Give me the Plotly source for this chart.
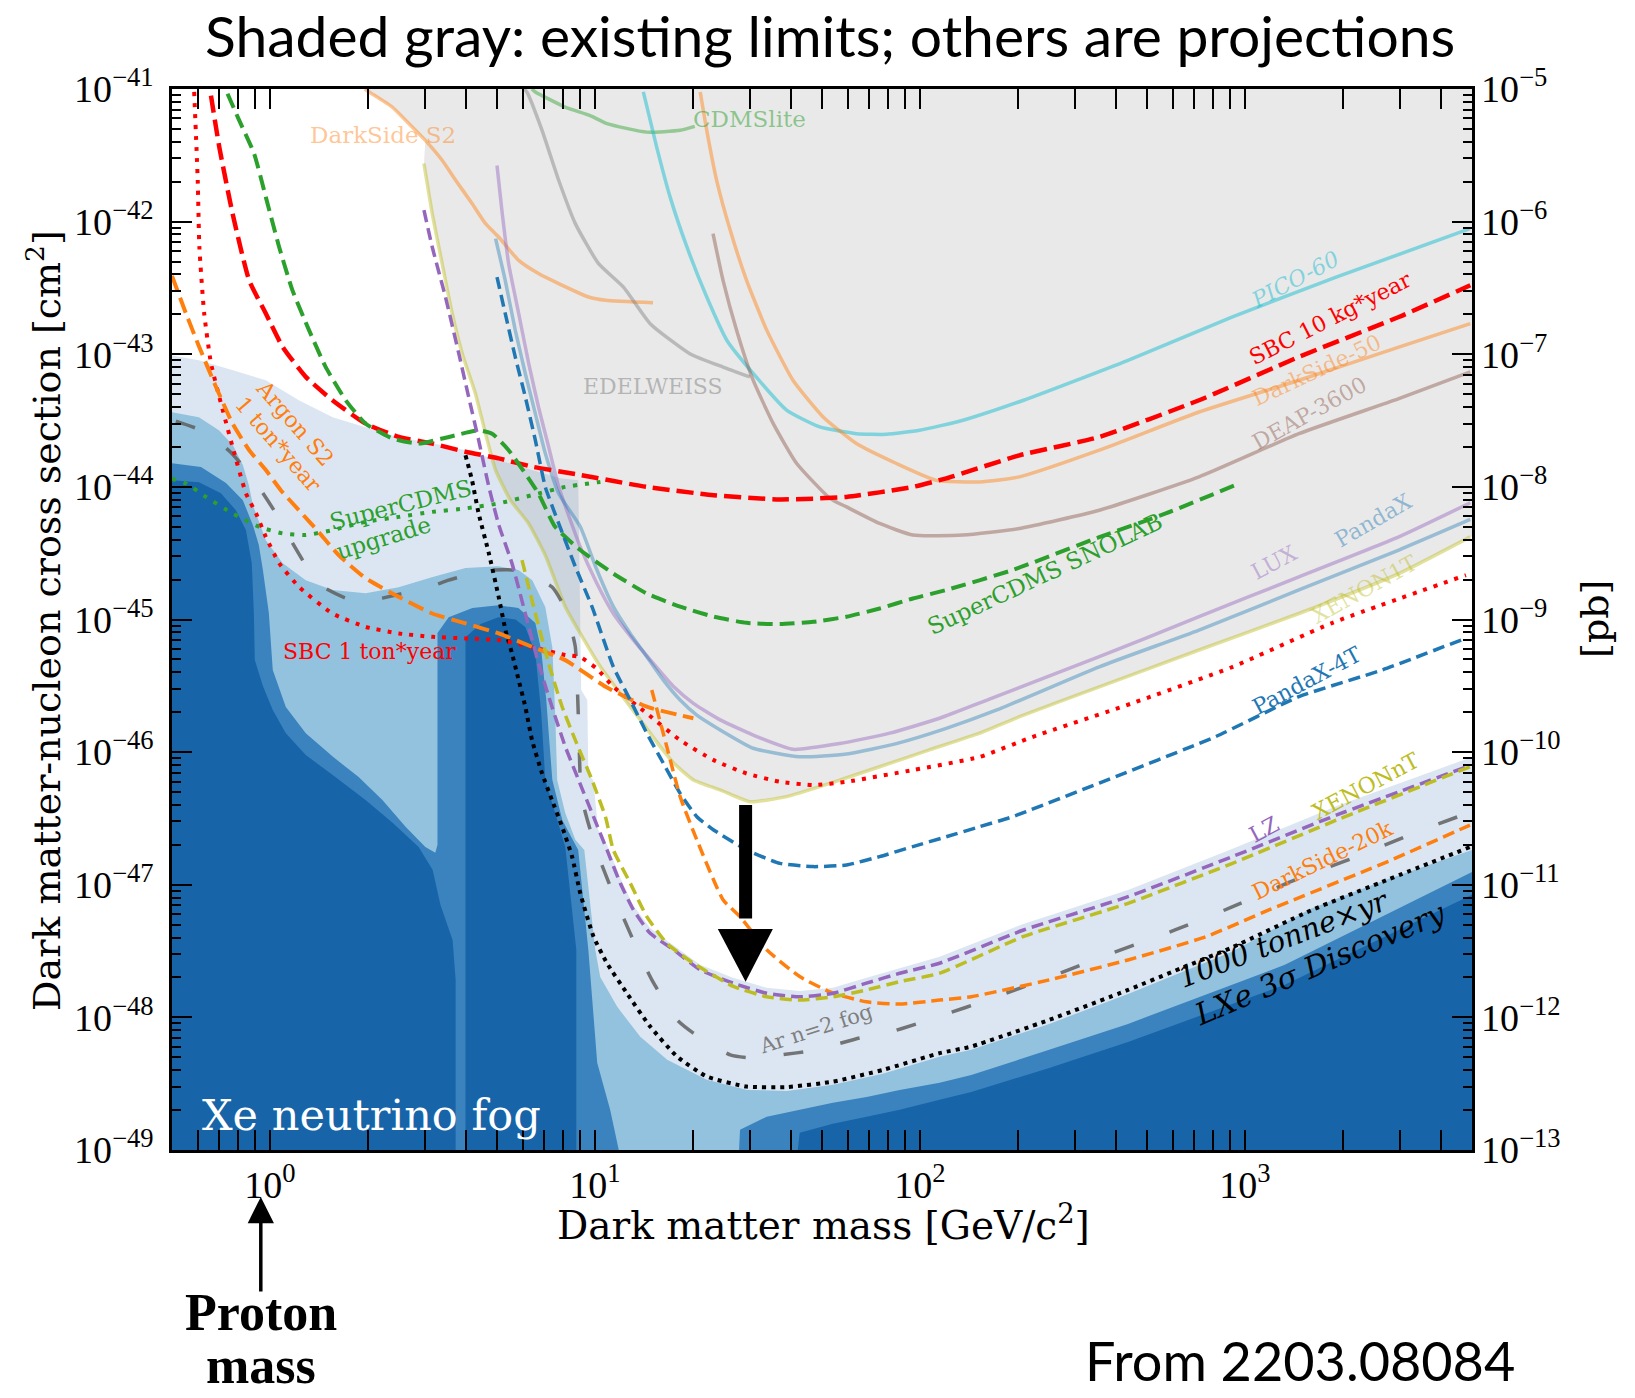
import numpy as np
import plotly.graph_objects as go

# ---------------- data (mass in GeV, cross section in cm^2) ----------------
# existing limits (solid, pale)
XENON1T_M = [2.98, 3.16, 3.39, 3.64, 3.91, 4.29, 4.61, 4.95, 5.5, 6.25, 7.04, 8.11, 9.02, 10.4, 11.97, 13.8, 15.9, 17.5, 20.1, 24.3, 30.0, 38.9, 52.9, 75.2, 107, 152.7, 202.6, 356.6, 723, 1467, 2977, 4940]
XENON1T_S = [2.74e-42, 1.15e-42, 4.82e-43, 2.03e-43, 1.01e-43, 5.06e-44, 2.52e-44, 1.34e-44, 7.94e-45, 5.32e-45, 3.05e-45, 1.25e-45, 7.85e-46, 4.4e-46, 2.77e-46, 1.75e-46, 1.1e-46, 8.24e-47, 6.17e-47, 5.19e-47, 4.23e-47, 4.62e-47, 5.82e-47, 7.76e-47, 1.04e-46, 1.39e-46, 1.85e-46, 3.11e-46, 5.89e-46, 1.11e-45, 2.22e-45, 4.2e-45]
PANDAX_M = [4.95, 5.3, 5.69, 6.11, 6.56, 7.04, 7.74, 9.02, 10.15, 11.4, 12.85, 14.45, 16.25, 18.3, 20.6, 24.3, 30.7, 42.7, 59.5, 84.7, 120.6, 171.8, 356.6, 723, 1467, 2977, 4940]
PANDAX_S = [7.45e-43, 3.61e-43, 1.52e-43, 7.16e-44, 3.57e-44, 1.79e-44, 8.9e-45, 5.0e-45, 2.36e-45, 1.25e-45, 7.85e-46, 5.24e-46, 3.49e-46, 2.47e-46, 1.9e-46, 1.47e-46, 1.07e-46, 9.23e-47, 9.68e-47, 1.16e-46, 1.51e-46, 2.07e-46, 4.4e-46, 8.32e-46, 1.67e-45, 3.34e-45, 5.68e-45]
LUX_M = [5.0, 5.19, 5.43, 5.83, 6.26, 6.71, 7.21, 7.74, 9.02, 10.15, 11.4, 13.15, 15.14, 17.5, 20.1, 24.3, 31.5, 40.7, 56.7, 80.8, 115, 163.8, 356.6, 723, 1467, 2977, 4940]
LUX_S = [2.65e-42, 1.15e-42, 4.82e-43, 2.03e-43, 8.5e-44, 4.0e-44, 2.0e-44, 1.0e-44, 3.53e-45, 1.87e-45, 1.11e-45, 7.0e-46, 4.67e-46, 3.11e-46, 2.33e-46, 1.75e-46, 1.31e-46, 1.05e-46, 1.16e-46, 1.39e-46, 1.8e-46, 2.51e-46, 5.24e-46, 1.05e-45, 2.1e-45, 4.2e-45, 7.59e-45]
PICO_M = [14.1, 15.5, 17.05, 19.2, 22.1, 25.5, 30.7, 38.9, 49.2, 63.8, 78.9, 99.8, 135.7, 208.6, 437, 916, 1919, 4930]
PICO_S = [9.5e-42, 3.65e-42, 1.53e-42, 6.44e-43, 2.7e-43, 1.27e-43, 7.16e-44, 3.79e-44, 2.83e-44, 2.52e-44, 2.49e-44, 2.67e-44, 3.18e-44, 4.5e-44, 9.0e-44, 1.91e-43, 3.83e-43, 8.85e-43]
DS50_M = [21.1, 22.1, 23.7, 26.1, 29.3, 33.8, 40.7, 50.4, 63.8, 84.7, 112.4, 152.7, 202.6, 356.6, 723, 1467, 2977, 4940]
DS50_S = [9.5e-42, 4.88e-42, 2.05e-42, 8.6e-43, 3.61e-43, 1.52e-43, 6.37e-44, 3.37e-44, 2.12e-44, 1.5e-44, 1.12e-44, 1.09e-44, 1.19e-44, 1.89e-44, 3.67e-44, 6.37e-44, 1.13e-43, 1.7e-43]
DEAP_M = [23.1, 24.8, 27.3, 30.7, 35.4, 41.8, 52.9, 59.5, 75.2, 95.2, 135.7, 202.6, 356.6, 723, 1467, 2977, 4940]
DEAP_S = [8.13e-43, 3.61e-43, 1.52e-43, 6.37e-44, 3.0e-44, 1.5e-44, 8.2e-45, 7.06e-45, 5.3e-45, 4.33e-45, 4.33e-45, 4.86e-45, 6.67e-45, 1.19e-44, 2.52e-44, 4.63e-44, 7.36e-44]
EDEL_M = [6.05, 6.18, 6.88, 7.74, 8.71, 10.27, 12.25, 14.8, 19.6, 24.8, 30.0]
EDEL_S = [1.0e-41, 9.5e-42, 4.88e-42, 2.05e-42, 9.66e-43, 4.82e-43, 3.21e-43, 1.7e-43, 1.01e-43, 8.0e-44, 6.75e-44]
CDMSLITE_M = [6.4, 6.56, 8.11, 9.68, 10.9, 14.45, 18.3, 20.3]
CDMSLITE_S = [1.0e-41, 9.5e-42, 7.3e-42, 6.3e-42, 5.48e-42, 4.73e-42, 4.88e-42, 5.22e-42]
DSS2_M = [1.96, 2.02, 2.38, 2.68, 3.01, 3.39, 3.73, 4.19, 4.61, 5.06, 5.83, 6.71, 7.74, 9.57, 10.8, 15.1]
DSS2_S = [1.0e-41, 9.5e-42, 7.3e-42, 5.48e-42, 4.1e-42, 2.9e-42, 2.05e-42, 1.37e-42, 9.66e-43, 7.66e-43, 5.1e-43, 4.06e-43, 3.41e-43, 2.7e-43, 2.55e-43, 2.44e-43]

# projections
SBC10_M = [0.659, 0.699, 0.768, 0.864, 0.972, 1.094, 1.29, 1.558, 1.97, 2.495, 3.16, 4.0, 5.06, 6.41, 9.02, 14.45, 23.2, 37.1, 59.5, 95.2, 120.6, 202.6, 356.6, 723, 1467, 2977, 4940]
SBC10_S = [8.9e-42, 3.65e-42, 1.15e-42, 3.6e-43, 2.03e-43, 1.14e-43, 6.75e-44, 4.5e-44, 3.0e-44, 2.38e-44, 2.12e-44, 1.84e-44, 1.64e-44, 1.42e-44, 1.23e-44, 1.0e-44, 8.66e-45, 8.04e-45, 8.4e-45, 1.0e-44, 1.16e-44, 1.73e-44, 2.38e-44, 4.5e-44, 9.55e-44, 1.91e-43, 3.31e-43]
SBC1T_M = [0.585, 0.6, 0.607, 0.628, 0.659, 0.699, 0.768, 0.844, 0.906, 0.972, 1.068, 1.23, 1.558, 1.97, 2.495, 3.16, 4.0, 5.06, 6.41, 8.11, 9.02, 10.1, 11.4, 14.45, 18.3, 23.2, 29.3, 37.1, 47, 59.5, 95.2, 152.7, 222, 451, 914, 1854, 4790]
SBC1T_S = [9.5e-42, 2.05e-42, 6.44e-43, 2.04e-43, 8.55e-44, 4.77e-44, 2.0e-44, 8.97e-45, 6.34e-45, 4.2e-45, 2.66e-45, 1.76e-45, 1.11e-45, 8.8e-46, 7.85e-46, 7.4e-46, 7.2e-46, 7.0e-46, 6.2e-46, 5.4e-46, 5.21e-46, 4.3e-46, 3.11e-46, 1.96e-46, 1.23e-46, 8.7e-47, 6.9e-47, 5.98e-47, 5.65e-47, 5.98e-47, 7.33e-47, 9.2e-47, 1.3e-46, 2.34e-46, 4.38e-46, 9.4e-46, 2.16e-45]
SNOLAB_M = [0.741, 0.805, 0.895, 0.972, 1.068, 1.174, 1.32, 1.486, 1.712, 1.97, 2.38, 2.874, 3.555, 4.394, 4.83, 5.43, 6.11, 6.71, 7.55, 9.02, 11.4, 14.45, 18.3, 23.2, 29.3, 37.1, 47, 59.5, 75.2, 95.2, 120.6, 193, 356.6, 571, 960]
SNOLAB_S = [9.2e-42, 5.8e-42, 3.25e-42, 1.53e-42, 6.44e-43, 3.03e-43, 1.52e-43, 8.0e-44, 4.5e-44, 3.0e-44, 2.32e-44, 2.12e-44, 2.38e-44, 2.67e-44, 2.52e-44, 1.89e-44, 1.26e-44, 8.9e-45, 5.0e-45, 3.34e-45, 2.22e-45, 1.57e-45, 1.25e-45, 1.05e-45, 9.44e-46, 9.23e-46, 9.6e-46, 1.05e-45, 1.21e-45, 1.44e-45, 1.67e-45, 2.36e-45, 4.18e-45, 6.3e-45, 1.06e-44]
SCDMS_UP_M = [0.5, 0.552, 0.636, 0.768, 0.927, 1.094, 1.29, 1.558, 1.97, 2.495, 3.16, 4.0, 5.06, 6.41, 8.11, 10.4]
SCDMS_UP_S = [1.15e-44, 1.06e-44, 8.4e-45, 6.3e-45, 5.0e-45, 4.46e-45, 4.33e-45, 4.72e-45, 5.45e-45, 5.94e-45, 6.48e-45, 6.88e-45, 7.5e-45, 8.66e-45, 1.0e-44, 1.09e-44]
ARS2_M = [0.5, 0.552, 0.606, 0.683, 0.768, 0.864, 0.972, 1.081, 1.228, 1.414, 1.628, 1.97, 2.495, 3.16, 4.0, 5.06, 6.41, 8.11, 10.8, 14.45, 20.1]
ARS2_S = [3.9e-43, 2.03e-43, 1.14e-43, 5.67e-44, 3.0e-44, 1.89e-44, 1.34e-44, 9.44e-45, 6.68e-45, 4.56e-45, 3.06e-45, 2.05e-45, 1.48e-45, 1.11e-45, 9.35e-46, 7.85e-46, 6.22e-46, 4.94e-46, 3.11e-46, 2.2e-46, 1.8e-46]
DS20K_M = [14.97, 16.65, 18.3, 20.6, 24.8, 27.97, 33.8, 42.7, 54.1, 68.5, 86.7, 115, 144, 251, 437, 760, 1186, 2778, 4930]
DS20K_S = [2.94e-46, 1.1e-46, 4.62e-47, 2.18e-47, 7.7e-48, 5.75e-48, 3.23e-48, 2.03e-48, 1.52e-48, 1.31e-48, 1.26e-48, 1.35e-48, 1.43e-48, 1.92e-48, 2.71e-48, 4.06e-48, 6.46e-48, 1.51e-47, 2.82e-47]
LZ_M = [2.98, 3.16, 3.47, 3.815, 4.09, 4.39, 4.72, 5.06, 5.56, 6.11, 6.71, 7.38, 8.11, 8.91, 10.0, 10.9, 11.97, 13.15, 14.8, 17.5, 21.1, 26.7, 33.8, 42.7, 54.1, 68.5, 86.7, 115, 208.6, 437, 916, 1919, 4885]
LZ_S = [1.22e-42, 6.44e-43, 2.7e-43, 1.01e-43, 4.77e-44, 2.25e-44, 1.0e-44, 5.2e-45, 2.65e-45, 1.11e-45, 4.67e-46, 2.2e-46, 1.1e-46, 6.17e-47, 3.08e-47, 1.83e-47, 1.03e-47, 6.46e-48, 4.3e-48, 3.23e-48, 2.28e-48, 1.81e-48, 1.52e-48, 1.43e-48, 1.52e-48, 1.81e-48, 2.15e-48, 2.56e-48, 4.56e-48, 8.13e-48, 1.63e-47, 3.36e-47, 7.85e-47]
XENONNT_M = [5.97, 6.56, 7.21, 7.93, 8.71, 9.8, 10.8, 11.4, 12.85, 14.45, 16.65, 20.1, 26.7, 33.8, 42.7, 54.1, 68.5, 86.7, 115, 207.5, 437, 916, 1919, 4930]
XENONNT_S = [2.8e-45, 1.11e-45, 4.67e-46, 2.2e-46, 1.23e-46, 6.17e-47, 3.2e-47, 1.83e-47, 1.03e-47, 5.75e-48, 3.62e-48, 2.56e-48, 1.71e-48, 1.43e-48, 1.35e-48, 1.43e-48, 1.61e-48, 1.86e-48, 2.15e-48, 4.06e-48, 7.24e-48, 1.45e-47, 3.08e-47, 7.76e-47]
PANDAX4T_M = [5.0, 5.3, 5.69, 6.11, 6.56, 7.04, 7.74, 8.71, 9.8, 11.4, 12.85, 14.45, 16.25, 18.3, 20.6, 23.2, 29.3, 37.1, 47, 59.5, 75.2, 95.2, 120.6, 152.7, 193, 356.6, 814, 1467, 2644, 4765]
PANDAX4T_S = [3.82e-43, 2.03e-43, 9.55e-44, 4.77e-44, 2.25e-44, 1.0e-44, 5.3e-45, 2.5e-45, 1.25e-45, 4.4e-46, 2.47e-46, 1.39e-46, 8.24e-47, 4.89e-47, 3.26e-47, 2.59e-47, 1.83e-47, 1.45e-47, 1.37e-47, 1.41e-47, 1.63e-47, 1.94e-47, 2.3e-47, 2.74e-47, 3.26e-47, 5.85e-47, 1.31e-46, 2.62e-46, 4.16e-46, 7.2e-46]
ARFOG_M = [0.514, 0.636, 0.759, 0.887, 1.043, 1.16, 1.318, 1.465, 1.712, 1.97, 2.22, 3.08, 3.55, 4.14, 4.84, 5.57, 6.33, 7.4, 7.94, 8.4, 8.71, 8.89, 9.02, 9.14, 9.68, 10.4, 11.7, 14.1, 15.1, 17.9, 20.05, 26.1, 30, 41.8, 48.2, 65.3, 75.3, 102, 117.5, 161.5, 261, 391, 610, 914, 1426, 2148, 3334, 4955]
ARFOG_S = [3.13e-44, 2.58e-44, 1.82e-44, 1.16e-44, 6.34e-45, 3.97e-45, 2.36e-45, 1.75e-45, 1.45e-45, 1.36e-45, 1.45e-45, 1.75e-45, 1.98e-45, 2.2e-45, 2.36e-45, 2.36e-45, 2.16e-45, 1.75e-45, 1.33e-45, 9.08e-46, 6.19e-46, 1.97e-46, 6.17e-47, 4.36e-47, 2.59e-47, 1.51e-47, 7.3e-48, 2.58e-48, 1.85e-48, 9.57e-49, 7.64e-49, 5.21e-49, 4.95e-49, 5.4e-49, 5.69e-49, 7.0e-49, 7.36e-49, 9.23e-49, 1.04e-48, 1.35e-48, 2.09e-48, 3.06e-48, 4.56e-48, 6.8e-48, 1.09e-47, 1.59e-47, 2.46e-47, 3.54e-47]
DISC_M = [4.0, 4.19, 4.39, 4.72, 5.06, 5.31, 5.56, 5.83, 6.11, 6.41, 6.88, 7.38, 7.93, 8.51, 9.02, 9.91, 10.9, 12.55, 14.8, 17.9, 22.1, 29.3, 38.9, 54.1, 77, 115, 144, 250, 437, 632, 914, 1596, 2773, 4920]
DISC_S = [1.73e-44, 1.12e-44, 6.3e-45, 3.15e-45, 1.48e-45, 8.32e-46, 5.55e-46, 3.49e-46, 2.2e-46, 1.23e-46, 6.92e-47, 4.36e-47, 2.74e-47, 1.63e-47, 8.63e-48, 4.06e-48, 2.56e-48, 1.52e-48, 8.53e-49, 5.07e-49, 3.58e-49, 3.01e-49, 2.98e-49, 3.28e-49, 4.02e-49, 5.37e-49, 6.03e-49, 9.57e-49, 1.61e-48, 2.33e-48, 3.37e-48, 6.4e-48, 1.1e-47, 1.92e-47]

# xenon neutrino fog contours (boundaries of the four shaded levels)
FOG_A_M = [0.5, 0.605, 0.77, 0.972, 1.228, 1.561, 1.97, 2.49, 3.17, 4.0, 5.05, 6.42, 7.83, 8.89, 9.02, 9.08, 9.48, 9.55, 9.89, 10.24, 10.9, 11.97, 13.1, 14.8, 17.4, 21.1, 26.6, 33.8, 42.7, 54, 68.6, 86.7, 115, 208, 437, 913, 1919, 5000]
FOG_A_S = [9.8e-44, 9.0e-44, 7.57e-44, 6.37e-44, 4.5e-44, 3.35e-44, 2.82e-44, 2.37e-44, 2.13e-44, 1.89e-44, 1.59e-44, 1.34e-44, 1.16e-44, 1.12e-44, 1.4e-45, 2.94e-46, 2.47e-46, 6.72e-47, 6.17e-47, 2.59e-47, 2.0e-47, 1.13e-47, 7.05e-48, 4.72e-48, 3.52e-48, 2.49e-48, 1.99e-48, 1.67e-48, 1.58e-48, 1.67e-48, 1.99e-48, 2.36e-48, 2.86e-48, 5.06e-48, 9.14e-48, 1.86e-47, 3.93e-47, 9.19e-47]
FOG_B_M = [0.5, 0.605, 0.697, 0.77, 0.826, 0.862, 0.887, 0.972, 1.096, 1.29, 1.561, 1.97, 2.49, 3.17, 4.0, 5.05, 5.82, 6.42, 7.04, 7.4, 7.55, 7.66, 8.11, 8.71, 9.28, 10.03, 10.39, 11.72, 13.8, 16.7, 22.1, 29.4, 39, 54, 76.9, 115, 144, 250, 437, 913, 1596, 2772, 5000]
FOG_B_S = [3.66e-44, 3.35e-44, 2.67e-44, 2.06e-44, 1.46e-44, 1.03e-44, 7.28e-45, 3.96e-45, 2.66e-45, 1.98e-45, 1.67e-45, 1.58e-45, 1.75e-45, 2.09e-45, 2.44e-45, 2.52e-45, 2.36e-45, 1.98e-45, 1.24e-45, 6.19e-46, 1.97e-46, 6.17e-47, 3.48e-47, 2.18e-47, 1.83e-47, 3.23e-48, 2.02e-48, 1.2e-48, 7.13e-49, 4.79e-49, 3.38e-49, 2.84e-49, 2.79e-49, 3.1e-49, 3.75e-49, 5.04e-49, 5.69e-49, 8.93e-49, 1.5e-48, 3.12e-48, 6.58e-48, 1.11e-47, 1.83e-47]
FOG_C_M = [0.5, 0.614, 0.733, 0.826, 0.887, 0.925, 0.952, 0.993, 1.021, 1.12, 1.29, 1.561, 1.876, 2.22, 2.62, 3.01, 3.23, 3.28, 3.28, 3.55, 4.2, 5.05, 5.82, 6.56, 6.84, 7.09, 7.24, 7.4, 7.94, 8.89, 9.55, 10.17, 11.15, 14.5, 26.6, 27.97, 33.8, 42.7, 54, 68.6, 86.7, 115, 144, 250, 437, 1328, 5000]
FOG_C_S = [1.51e-44, 1.41e-44, 1.07e-44, 7.94e-45, 5.14e-45, 3.64e-45, 2.36e-45, 1.12e-45, 4.16e-46, 2.19e-46, 1.39e-46, 9.25e-47, 6.49e-47, 4.36e-47, 2.73e-47, 1.93e-47, 1.74e-47, 2.0e-47, 7.9e-46, 1.04e-45, 1.22e-45, 1.28e-45, 1.22e-45, 9.4e-46, 5.88e-46, 2.47e-46, 1.23e-46, 6.17e-47, 3.08e-47, 1.83e-47, 3.23e-48, 4.54e-49, 2.0e-49, 1e-50, 1e-50, 1.42e-49, 1.78e-49, 2.01e-49, 2.27e-49, 2.51e-49, 2.84e-49, 3.21e-49, 3.68e-49, 5.69e-49, 8.93e-49, 2.49e-48, 1.25e-47]
FOG_D_M = [0.5, 0.605, 0.707, 0.786, 0.844, 0.88, 0.893, 0.899, 0.952, 1.021, 1.12, 1.29, 1.561, 1.97, 2.39, 2.87, 3.17, 3.35, 3.65, 3.73, 3.73, 4.0, 4.0, 4.45, 5.05, 5.7, 6.11, 6.56, 6.84, 7.04, 8.11, 8.77, 8.77, 37.9, 42.7, 54, 68.6, 86.7, 115, 144, 250, 437, 1328, 5000]
FOG_D_S = [1.12e-44, 1.085e-44, 8.97e-45, 6.67e-45, 4.72e-45, 2.66e-45, 1.12e-45, 4.94e-46, 3.15e-46, 2.08e-46, 1.39e-46, 9.51e-47, 6.72e-47, 4.36e-47, 2.92e-47, 1.93e-47, 1.29e-47, 7.05e-48, 3.84e-48, 1.92e-48, 1e-50, 1e-50, 7.36e-46, 9.23e-46, 1.04e-45, 1.0e-45, 8.77e-46, 5.58e-46, 1.97e-46, 6.17e-47, 1.93e-47, 3.23e-48, 1e-50, 1e-50, 1.35e-49, 1.58e-49, 1.78e-49, 2.01e-49, 2.39e-49, 2.74e-49, 4.16e-49, 6.53e-49, 1.76e-48, 8.41e-48]

# the big "towards the fog" arrow (mass, cross sections) and proton mass
ARROW_MASS = 29.1
ARROW_TAIL = 4.0e-47
ARROW_HEAD_BASE = 4.64e-48
ARROW_TIP = 1.86e-48
ARROW_HEAD_MASS = [23.9, 35.3]
PROTON_MASS = 0.938

# axis ticks
Y_DECADES = list(range(-49, -40))
X_DECADES = [0, 1, 2, 3]
PB_DECADES = list(range(-13, -4))

# labels: text, mass, sigma, angle, color, size
LABELS = [
    ("DarkSide S2", 2.222, 4.50e-42, 0, "rgba(255,127,14,0.45)", 23),
    ("CDMSlite", 30.0, 5.94e-42, 0, "rgba(44,160,44,0.5)", 23),
    ("EDELWEISS", 15.05, 5.75e-44, 0, "rgba(127,127,127,0.5)", 22),
    ("<i>PICO-60</i>", 1427, 3.69e-43, -28, "rgba(23,190,207,0.5)", 22),
    ("SBC 10 kg*year", 1829, 1.875e-43, -27, "#ff0000", 22),
    ("DarkSide-50", 1656, 7.6e-44, -25, "rgba(255,127,14,0.45)", 22),
    ("DEAP-3600", 1576, 3.6e-44, -29, "rgba(140,86,75,0.45)", 22),
    ("SuperCDMS SNOLAB", 242.8, 2.2e-45, -25, "#2ca02c", 23),
    ("LUX", 1229, 2.71e-45, -28, "rgba(148,103,189,0.45)", 22),
    ("PandaX", 2480, 5.62e-45, -30, "rgba(31,119,180,0.45)", 22),
    ("XENON1T", 2327, 1.67e-45, -29, "rgba(188,189,34,0.45)", 22),
    ("PandaX-4T", 1554, 3.49e-46, -28, "#1f77b4", 22),
    ("XENONnT", 2343, 5.55e-47, -28, "#bcbd22", 22),
    ("LZ", 1146, 2.62e-47, -28, "#9467bd", 22),
    ("DarkSide-20k", 1728, 1.53e-47, -26, "#ff7f0e", 22),
    ("<i>1000 tonne×yr</i>", 1311, 3.89e-48, -21, "black", 29),
    ("<i>LXe 3σ Discovery</i>", 1703, 2.56e-48, -23, "black", 30),
    ("Ar n=2 fog", 47.9, 8.15e-49, -18, "#7f7f7f", 21),
    ("Argon S2", 1.195, 2.98e-44, 49, "#ff7f0e", 22),
    ("1 ton*year", 1.06, 2.07e-44, 49, "#ff7f0e", 22),
    ("SuperCDMS", 2.515, 7.3e-45, -14, "#2ca02c", 23),
    ("upgrade", 2.23, 4.11e-45, -17, "#2ca02c", 23),
    ("SBC 1 ton*year", 2.02, 5.78e-46, 0, "#ff0000", 22),
    ("Xe neutrino fog", 2.048, 1.83e-49, 0, "white", 43),
]

# ---------------- figure ----------------
fig = go.Figure()


def poly(m, s, color):
    fig.add_trace(go.Scatter(x=list(m) + [m[-1], m[0]], y=list(s) + [1e-50, 1e-50],
                             mode="lines", fill="toself", fillcolor=color,
                             line=dict(width=0, color=color), hoverinfo="skip", showlegend=False))


def curve(m, s, color, width, dash="solid", shape="spline"):
    fig.add_trace(go.Scatter(x=m, y=s, mode="lines",
                             line=dict(color=color, width=width, dash=dash, shape=shape, smoothing=0.5),
                             hoverinfo="skip", showlegend=False))


# neutrino fog
poly(FOG_A_M, FOG_A_S, "#dce6f2")
poly(FOG_B_M, FOG_B_S, "#93c2de")
poly(FOG_C_M, FOG_C_S, "#3a83be")
poly(FOG_D_M, FOG_D_S, "#1764a9")

# shaded existing-limit region: above DarkSide S2 (low mass) and XENON1T
gx = [DSS2_M[0]] + DSS2_M[:5] + XENON1T_M + [1e4, 1e4]
gy = [1e-40] + DSS2_S[:5] + XENON1T_S + [XENON1T_S[-1], 1e-40]
fig.add_trace(go.Scatter(x=gx, y=gy, mode="lines", fill="toself",
                         fillcolor="rgba(140,140,140,0.19)", line=dict(width=0),
                         hoverinfo="skip", showlegend=False))

# existing limits
curve(DSS2_M, DSS2_S, "rgba(255,127,14,0.45)", 3.5)
curve(CDMSLITE_M, CDMSLITE_S, "rgba(44,160,44,0.45)", 3.5)
curve(EDEL_M, EDEL_S, "rgba(127,127,127,0.45)", 3.5)
curve(PICO_M, PICO_S, "rgba(23,190,207,0.5)", 3.5)
curve(DS50_M, DS50_S, "rgba(255,127,14,0.45)", 3.5)
curve(DEAP_M, DEAP_S, "rgba(140,86,75,0.45)", 3.5)
curve(LUX_M, LUX_S, "rgba(148,103,189,0.45)", 3.5)
curve(PANDAX_M, PANDAX_S, "rgba(31,119,180,0.4)", 3.5)
curve(XENON1T_M, XENON1T_S, "rgba(188,189,34,0.45)", 3.5)

# projections
curve(ARFOG_M, ARFOG_S, "rgba(95,95,95,0.85)", 3.5, dash="20px,38px")
curve(DISC_M, DISC_S, "black", 4, dash="4px,5px")
curve(SBC1T_M, SBC1T_S, "#ff0000", 4, dash="4px,7px")
curve(SCDMS_UP_M, SCDMS_UP_S, "#2ca02c", 4, dash="4px,8px")
curve(SBC10_M, SBC10_S, "#ff0000", 4.5, dash="17px,7px")
curve(SNOLAB_M, SNOLAB_S, "#2ca02c", 4, dash="15px,7px")
curve(ARS2_M, ARS2_S, "#ff7f0e", 4, dash="16px,7px")
curve(PANDAX4T_M, PANDAX4T_S, "#1f77b4", 3.5, dash="12px,6px")
curve(DS20K_M, DS20K_S, "#ff7f0e", 3.5, dash="12px,6px")
curve(LZ_M, LZ_S, "#9467bd", 3.5, dash="12px,6px")
curve(XENONNT_M, XENONNT_S, "#bcbd22", 3.5, dash="12px,6px")

# big black arrow
fig.add_trace(go.Scatter(x=[ARROW_MASS, ARROW_MASS], y=[ARROW_TAIL, ARROW_HEAD_BASE * 1.2],
                         mode="lines", line=dict(color="black", width=13),
                         hoverinfo="skip", showlegend=False))
fig.add_trace(go.Scatter(x=[ARROW_HEAD_MASS[0], ARROW_HEAD_MASS[1], ARROW_MASS],
                         y=[ARROW_HEAD_BASE, ARROW_HEAD_BASE, ARROW_TIP],
                         mode="lines", fill="toself", fillcolor="black",
                         line=dict(width=0, color="black"), hoverinfo="skip", showlegend=False))

# dummy trace to activate the right-hand axis
fig.add_trace(go.Scatter(x=[None], y=[None], yaxis="y2", showlegend=False, hoverinfo="skip"))

annotations = []
for text, m, s, ang, col, size in LABELS:
    annotations.append(dict(x=np.log10(m), y=np.log10(s), xref="x", yref="y", text=text,
                            showarrow=False, textangle=ang, xanchor="center", yanchor="middle",
                            font=dict(family="DejaVu Serif", size=size, color=col)))

# proton mass arrow & text
annotations.append(dict(x=np.log10(PROTON_MASS), y=-0.0443, xref="x", yref="paper", text="",
                        showarrow=True, ax=0, ay=96, arrowhead=2, arrowsize=1.5, arrowwidth=3.5,
                        arrowcolor="black"))
annotations.append(dict(x=np.log10(PROTON_MASS), y=-0.153, xref="x", yref="paper", text="<b>Proton</b>",
                        showarrow=False, xanchor="center", yanchor="middle",
                        font=dict(family="Liberation Serif", size=52, color="black")))
annotations.append(dict(x=np.log10(PROTON_MASS), y=-0.2035, xref="x", yref="paper", text="<b>mass</b>",
                        showarrow=False, xanchor="center", yanchor="middle",
                        font=dict(family="Liberation Serif", size=52, color="black")))

# titles
annotations.append(dict(x=0.5058, y=1.0509, xref="paper", yref="paper",
                        text="Shaded gray: existing limits; others are projections",
                        showarrow=False, xanchor="center", yanchor="middle",
                        font=dict(family="Lato", size=57, color="black")))
annotations.append(dict(x=1.0346, y=-0.1985, xref="paper", yref="paper", text="From 2203.08084",
                        showarrow=False, xanchor="right", yanchor="middle",
                        font=dict(family="Lato", size=54, color="black")))
annotations.append(dict(x=-0.0985, y=0.4995, xref="paper", yref="paper",
                        text="Dark matter-nucleon cross section [cm<sup>2</sup>]", textangle=-90,
                        showarrow=False, xanchor="center", yanchor="middle",
                        font=dict(family="DejaVu Serif", size=38, color="black")))
annotations.append(dict(x=0.5008, y=-0.0690, xref="paper", yref="paper",
                        text="Dark matter mass [GeV/c<sup>2</sup>]",
                        showarrow=False, xanchor="center", yanchor="middle",
                        font=dict(family="DejaVu Serif", size=39, color="black")))
annotations.append(dict(x=1.0946, y=0.5005, xref="paper", yref="paper", text="[pb]", textangle=-90,
                        showarrow=False, xanchor="center", yanchor="middle",
                        font=dict(family="DejaVu Serif", size=38, color="black")))


def minor_vals(decades):
    return [k * 10.0 ** d for d in decades for k in range(2, 10)]


tickfont = dict(family="Liberation Serif", size=38, color="black")
common = dict(type="log", showgrid=False, zeroline=False, showline=True, linecolor="black",
              linewidth=2.5, ticks="inside", ticklen=20, tickwidth=2, tickcolor="black",
              tickfont=tickfont)

fig.update_layout(
    width=1635, height=1398,
    margin=dict(l=172, r=163, t=89, b=248, pad=0),
    paper_bgcolor="white", plot_bgcolor="white",
    showlegend=False,
    annotations=annotations,
    xaxis=dict(range=[np.log10(0.5), np.log10(5000)], mirror="allticks",
               tickmode="array", tickvals=[10.0 ** d for d in X_DECADES],
               ticktext=["10<sup>%d</sup>" % d for d in X_DECADES],
               minor=dict(tickmode="array", tickvals=minor_vals(range(-1, 4)), ticks="inside",
                          ticklen=9, tickwidth=1.5, tickcolor="black", showgrid=False),
               ticklabelstandoff=0, **common),
    yaxis=dict(range=[-49, -41], mirror=True,
               tickmode="array", tickvals=[10.0 ** d for d in Y_DECADES],
               ticktext=["10<sup>\u2212%d</sup>" % (-d) for d in Y_DECADES],
               minor=dict(tickmode="array", tickvals=minor_vals(range(-49, -41)), ticks="inside",
                          ticklen=9, tickwidth=1.5, tickcolor="black", showgrid=False),
               ticklabelstandoff=8, **common),
    yaxis2=dict(overlaying="y", side="right", anchor="x", range=[-13, -5],
                tickmode="array", tickvals=[10.0 ** d for d in PB_DECADES],
                ticktext=["10<sup>\u2212%d</sup>" % (-d) for d in PB_DECADES],
                minor=dict(tickmode="array", tickvals=minor_vals(range(-13, -5)), ticks="inside",
                           ticklen=9, tickwidth=1.5, tickcolor="black", showgrid=False),
                ticklabelstandoff=8,
                **{k: v for k, v in common.items() if k != "showline"}, showline=False),
)

fig.write_html("out.html")
